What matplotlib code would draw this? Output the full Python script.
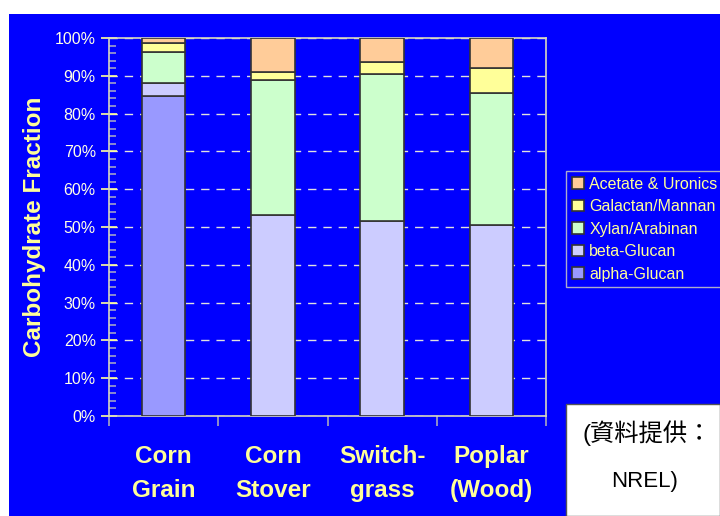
import matplotlib
matplotlib.use("Agg")

import matplotlib.pyplot as plt
import numpy as np
from matplotlib.patches import Rectangle
from matplotlib.ticker import MultipleLocator, PercentFormatter, FixedLocator

# carbohydrate composition by feedstock (percent of total)
feedstocks = ["Corn\nGrain", "Corn\nStover", "Switch-\ngrass", "Poplar\n(Wood)"]
alpha_glucan = [84.6, 0.0, 0.0, 0.0]
beta_glucan = [3.6, 53.3, 51.5, 50.6]
xylan_arabinan = [8.0, 35.6, 39.0, 34.9]
galactan_mannan = [2.4, 2.2, 3.1, 6.6]
acetate_uronics = [1.4, 8.9, 6.4, 7.9]

series = [
    ("alpha-Glucan", alpha_glucan, "#9999FF"),
    ("beta-Glucan", beta_glucan, "#CCCCFF"),
    ("Xylan/Arabinan", xylan_arabinan, "#CCFFCC"),
    ("Galactan/Mannan", galactan_mannan, "#FFFF99"),
    ("Acetate & Uronics", acetate_uronics, "#FFCC99"),
]

BLUE = "#0000FF"
YELLOW = "#FFFF99"
PALE = "#FFFFE6"

plt.rcParams["font.family"] = ["Liberation Sans", "Noto Sans CJK TC", "DejaVu Sans"]

W, H = 720, 516
fig = plt.figure(figsize=(W / 100, H / 100), dpi=100)
fig.patch.set_facecolor("white")
fig.patches.append(Rectangle((9 / W, 0), 1 - 9 / W, 1 - 14 / H,
                             transform=fig.transFigure, facecolor=BLUE,
                             edgecolor="none", zorder=-10))

ax = fig.add_axes([109 / W, 1 - 416 / H, (546 - 109) / W, (416 - 38) / H])
ax.set_facecolor(BLUE)

x = np.arange(len(feedstocks))
bottom = np.zeros(len(feedstocks))
handles = []
for name, vals, color in series:
    vals = np.asarray(vals)
    b = ax.bar(x, vals, width=0.4, bottom=bottom, color=color,
               edgecolor="#333333", linewidth=1.2, label=name, zorder=3)
    handles.append(b)
    bottom += vals

ax.set_xlim(-0.5, len(feedstocks) - 0.5)
ax.set_ylim(0, 100)

# y axis: 10% major ticks crossing the spine, 2% minor ticks inside
ax.yaxis.set_major_locator(MultipleLocator(10))
ax.yaxis.set_minor_locator(MultipleLocator(2))
ax.yaxis.set_major_formatter(PercentFormatter(decimals=0))
ax.tick_params(axis="y", which="major", direction="inout", length=11,
               width=1.2, color=YELLOW, labelcolor=PALE, labelsize=11.5, pad=4)
ax.tick_params(axis="y", which="minor", direction="in", length=5,
               width=1.2, color="#A0A0C8")

# x axis: category labels, ticks at category boundaries
ax.set_xticks(x)
ax.set_xticklabels(feedstocks, fontsize=17.5, fontweight="bold", color=YELLOW,
                   linespacing=1.6)
ax.tick_params(axis="x", which="major", length=0, pad=21)
ax.xaxis.set_minor_locator(FixedLocator(np.arange(-0.5, len(feedstocks), 1.0)))
ax.tick_params(axis="x", which="minor", direction="out", length=7,
               width=1.2, color="#A8A8C0")

for s in ax.spines.values():
    s.set_color("#D8D8C0")
    s.set_linewidth(1.2)

ax.yaxis.grid(True, which="major", color="#E0E0E0", linestyle=(0, (6, 5)),
              linewidth=1.0, zorder=1)
ax.set_axisbelow(True)

ax.set_ylabel("Carbohydrate Fraction", fontsize=17.5, fontweight="bold",
              color=YELLOW, labelpad=6)

leg = ax.legend(handles[::-1], [s[0] for s in series][::-1],
                loc="upper left", bbox_to_anchor=(566 / W, 1 - 171 / H),
                bbox_transform=fig.transFigure, frameon=True, fontsize=11.5,
                handlelength=0.75, handleheight=0.75, handletextpad=0.35,
                labelspacing=0.47, borderpad=0.35, borderaxespad=0,
                fancybox=False)
leg.get_frame().set_facecolor(BLUE)
leg.get_frame().set_edgecolor("#D8D8C0")
leg.get_frame().set_linewidth(1.0)
for t in leg.get_texts():
    t.set_color(YELLOW)

# source note in a white box at the lower right
fig.patches.append(Rectangle((566 / W, 0), 1 - 566 / W, 1 - 404 / H,
                             transform=fig.transFigure, facecolor="white",
                             edgecolor="#555555", linewidth=1.0, zorder=5))
fig.text(647 / W, 1 - 433 / H, "(資料提供：", ha="center", va="center",
         fontsize=17.5, color="black", zorder=6)
fig.text(645 / W, 1 - 481 / H, "NREL)", ha="center", va="center",
         fontsize=16, color="black", zorder=6)

fig.savefig("out.png", dpi=100)
